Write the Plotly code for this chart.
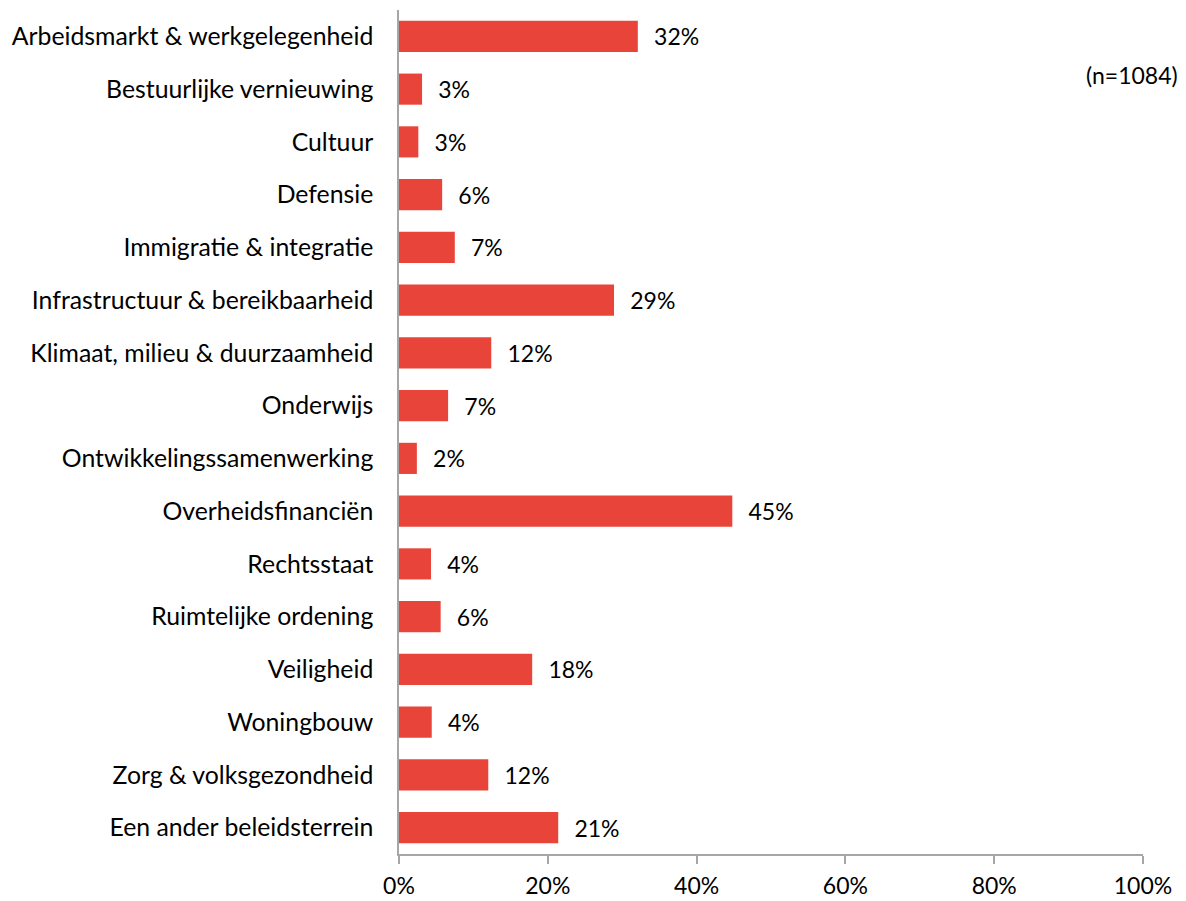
import plotly.graph_objects as go

categories = [
    "Arbeidsmarkt & werkgelegenheid",
    "Bestuurlijke vernieuwing",
    "Cultuur",
    "Defensie",
    "Immigratie & integratie",
    "Infrastructuur & bereikbaarheid",
    "Klimaat, milieu & duurzaamheid",
    "Onderwijs",
    "Ontwikkelingssamenwerking",
    "Overheidsfinanciën",
    "Rechtsstaat",
    "Ruimtelijke ordening",
    "Veiligheid",
    "Woningbouw",
    "Zorg & volksgezondheid",
    "Een ander beleidsterrein",
]
values = [32.1, 3.1, 2.6, 5.8, 7.5, 28.9, 12.4, 6.6, 2.4, 44.8, 4.3, 5.6, 17.9, 4.4, 12.0, 21.4]
labels = ["32%", "3%", "3%", "6%", "7%", "29%", "12%", "7%", "2%", "45%", "4%", "6%", "18%", "4%", "12%", "21%"]
tick_vals = [0, 20, 40, 60, 80, 100]
tick_text = ["0%", "20%", "40%", "60%", "80%", "100%"]
note = "(n=1084)"

FONT = "Lato"
FS = 23
FS_CAT = 24.8

W, H = 1178, 893
ML, MR, MT, MB = 391, 43, 2, 47

fig = go.Figure(go.Bar(
    x=values,
    y=categories,
    orientation="h",
    marker=dict(color="#E8443A", line=dict(width=0)),
    text=["  \u200a" + t for t in labels],
    textposition="outside",
    textfont=dict(family=FONT, size=FS, color="#000000"),
    cliponaxis=False,
    width=0.59,
))

fig.update_layout(
    width=W, height=H,
    margin=dict(l=ML, r=MR, t=MT, b=MB, autoexpand=False),
    paper_bgcolor="white", plot_bgcolor="white",
    showlegend=False,
    font=dict(family=FONT, size=FS, color="#000000"),
    xaxis=dict(
        range=[0, 100], tickvals=tick_vals, ticktext=tick_text,
        showgrid=False, zeroline=False, automargin=False,
        showline=True, linecolor="#A6A6A6", linewidth=1.5,
        ticks="outside", ticklen=8, tickcolor="#A6A6A6", tickwidth=1.5,
        ticklabelstandoff=3,
        tickfont=dict(family=FONT, size=FS, color="#000000"),
    ),
    yaxis=dict(
        categoryorder="array", categoryarray=categories, autorange="reversed",
        showgrid=False, zeroline=False, automargin=False,
        showline=True, linecolor="#A6A6A6", linewidth=1.5,
        ticks="", ticklabelstandoff=19,
        tickfont=dict(family=FONT, size=FS_CAT, color="#000000"),
    ),
    annotations=[dict(
        text=note, xref="paper", yref="paper",
        x=(1172 - ML) / (W - ML - MR), y=(H - MB - (75 - 8)) / (H - MT - MB),
        xanchor="right", yanchor="middle", showarrow=False,
        font=dict(family=FONT, size=FS, color="#000000"),
    )],
)

fig.write_html("out.html")
